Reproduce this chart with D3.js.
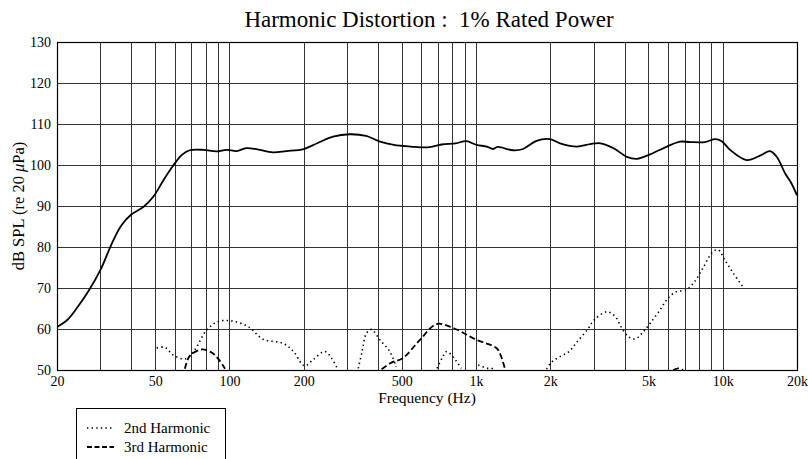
<!DOCTYPE html>
<html>
<head>
<meta charset="utf-8">
<script src="https://cdn.jsdelivr.net/npm/d3@7"></script>
<style>
  body { margin: 0; background: #fff; }
  svg { display: block; font-family: "Liberation Serif", "Times New Roman", serif; }
  .grid line { stroke: #333; stroke-width: 1; }
</style>
</head>
<body>
<svg width="808" height="459"></svg>
<script>
"use strict";

// fundamental response [Hz, dB]
var fundamental = [
  [20, 60.5], [22, 62.2], [24, 65.0], [27, 69.5], [30, 74.4], [33.4, 80.9], [36.4, 85.2],
  [39.8, 87.8], [44.9, 89.8], [49.2, 92.3], [54, 96.3], [59.4, 100.0], [64, 102.4],
  [69, 103.6], [78.5, 103.7], [88.6, 103.3], [97.5, 103.7], [107, 103.4], [117, 104.1],
  [130, 103.8], [150, 103.1], [170, 103.4], [200, 103.9], [227, 105.3], [263, 106.9],
  [307, 107.5], [358, 107.1], [408, 105.7], [464, 104.9], [543, 104.5], [637, 104.3],
  [725, 105.0], [827, 105.3], [913, 105.8], [1005, 104.9], [1105, 104.5], [1172, 103.9],
  [1223, 104.4], [1411, 103.6], [1549, 103.9], [1758, 105.9], [1993, 106.3], [2190, 105.3],
  [2560, 104.5], [2903, 105.1], [3190, 105.3], [3607, 104.1], [4085, 102.0], [4485, 101.5],
  [5078, 102.6], [5939, 104.5], [6720, 105.7], [7370, 105.6], [8480, 105.6], [9320, 106.3],
  [9910, 105.8], [10710, 103.7], [12520, 101.2], [14170, 102.3], [15550, 103.4],
  [16550, 102.0], [17890, 98.0], [19000, 95.5], [20000, 92.6]
];

// 2nd harmonic, null = below chart floor
var harmonic2 = [
  [50.7, 55.4], [54.8, 55.5], [59, 53.7], [66, 52.7], [71.6, 54.5], [81, 59.8], [90, 61.8],
  [101, 62.0], [119, 60.6], [137, 57.5], [165, 56.5], [182, 54.5], [196, 51.6], [203, 51.0],
  [219, 52.6], [244, 54.5], [260, 52.8], [274, 50.3], [280, null],
  [333, 50.4], [345, 54.5], [359, 58.9], [376, 59.9], [408, 57.3], [447, 54.5], [474, 50.8], [480, null],
  [695, 50.4], [730, 53.0], [760, 54.5], [826, 52.4], [871, 50.4], [880, null],
  [1020, 51.2], [1120, 50.4], [1186, 50.4], [1200, null],
  [1930, 50.2], [2030, 52.0], [2180, 53.2], [2380, 54.5], [2570, 56.9], [2825, 59.8],
  [3010, 62.2], [3390, 64.2], [3670, 63.0], [3900, 60.2], [4150, 58.1], [4420, 57.6],
  [4760, 59.3], [5080, 61.4], [5560, 64.6], [6000, 67.5], [6480, 69.1], [7110, 69.5],
  [7680, 71.5], [8300, 74.8], [9140, 78.9], [9580, 79.3], [10200, 76.8], [11040, 73.6],
  [12100, 70.2]
];

// 3rd harmonic
var harmonic3 = [
  [66, 50.3], [69, 53.4], [77, 55.0], [85, 54.2], [91, 52.4], [96, 50.3], [98, null],
  [414, 50.2], [454, 51.8], [505, 52.9], [591, 57.3], [690, 61.2], [782, 60.6],
  [886, 59.1], [990, 57.5], [1100, 56.5], [1212, 55.3], [1260, 53.5], [1310, 50.2], [1320, null],
  [6300, 50.0], [6600, 50.4], [6900, 50.0]
];

var xTicks = [20, 50, 100, 200, 500, 1000, 2000, 5000, 10000, 20000],
    xTickLabels = ["20", "50", "100", "200", "500", "1k", "2k", "5k", "10k", "20k"],
    xGrid = [30, 40, 50, 60, 70, 80, 90, 100, 200, 300, 400, 500, 600, 700, 800, 900,
             1000, 2000, 3000, 4000, 5000, 6000, 7000, 8000, 9000, 10000],
    yTicks = [50, 60, 70, 80, 90, 100, 110, 120, 130];

var svg = d3.select("svg");
var pLeft = 57, pRight = 797, pTop = 42, pBottom = 370;

var x = d3.scaleLog().domain([20, 20000]).range([pLeft, pRight]);
var y = d3.scaleLinear().domain([50, 130]).range([pBottom, pTop]);

svg.append("defs").append("clipPath").attr("id", "plot")
  .append("rect").attr("x", pLeft).attr("y", pTop)
  .attr("width", pRight - pLeft).attr("height", pBottom - pTop);

var grid = svg.append("g").attr("class", "grid");
grid.selectAll("line.v").data(xGrid).enter().append("line")
  .attr("x1", function(d) { return Math.round(x(d)) + 0.5; })
  .attr("x2", function(d) { return Math.round(x(d)) + 0.5; })
  .attr("y1", pTop).attr("y2", pBottom);
grid.selectAll("line.h").data(yTicks).enter().append("line")
  .attr("y1", function(d) { return Math.round(y(d)) + 0.5; })
  .attr("y2", function(d) { return Math.round(y(d)) + 0.5; })
  .attr("x1", pLeft).attr("x2", pRight);

svg.append("rect")
  .attr("x", pLeft + 0.5).attr("y", pTop + 0.5)
  .attr("width", pRight - pLeft).attr("height", pBottom - pTop)
  .attr("fill", "none").attr("stroke", "#000").attr("stroke-width", 1.2);

// axes (labels only)
var xAxis = d3.axisBottom(x).tickValues(xTicks).tickSize(0).tickPadding(6)
  .tickFormat(function(d, i) { return xTickLabels[i]; });
var gx = svg.append("g").attr("transform", "translate(0," + pBottom + ")").call(xAxis);
gx.attr("font-family", null);
gx.select(".domain").remove();
gx.selectAll("text").attr("font-size", 14).attr("fill", "#000");

var yAxis = d3.axisLeft(y).tickValues(yTicks).tickSize(0).tickPadding(6);
var gy = svg.append("g").attr("transform", "translate(" + pLeft + ",0)").call(yAxis);
gy.attr("font-family", null);
gy.select(".domain").remove();
gy.selectAll("text").attr("font-size", 14).attr("fill", "#000");

var line = d3.line()
  .defined(function(d) { return d[1] !== null; })
  .x(function(d) { return x(d[0]); })
  .y(function(d) { return y(d[1]); })
  .curve(d3.curveCatmullRom.alpha(0.5));

var plot = svg.append("g").attr("clip-path", "url(#plot)");

plot.append("path").datum(harmonic2)
  .attr("d", line).attr("fill", "none").attr("stroke", "#000")
  .attr("stroke-width", 1.6).attr("stroke-dasharray", "1.4,3.2");

plot.append("path").datum(harmonic3)
  .attr("d", line).attr("fill", "none").attr("stroke", "#000")
  .attr("stroke-width", 1.8).attr("stroke-dasharray", "6,3");

plot.append("path").datum(fundamental)
  .attr("d", line).attr("fill", "none").attr("stroke", "#000")
  .attr("stroke-width", 1.8);

// titles
svg.append("text").attr("x", 429).attr("y", 27)
  .attr("text-anchor", "middle").attr("font-size", 23)
  .style("white-space", "pre")
  .text("Harmonic Distortion :  1% Rated Power");

svg.append("text").attr("x", 427).attr("y", 403)
  .attr("text-anchor", "middle").attr("font-size", 15.5)
  .text("Frequency (Hz)");

var yl = svg.append("text")
  .attr("transform", "translate(24," + (pTop + pBottom) / 2 + ") rotate(-90)")
  .attr("text-anchor", "middle").attr("font-size", 16.5);
yl.append("tspan").text("dB SPL (re 20 ");
yl.append("tspan").attr("font-style", "italic").text("μ");
yl.append("tspan").text("Pa)");

// legend
var lg = svg.append("g").attr("transform", "translate(76,408)");
lg.append("rect").attr("x", 0.5).attr("y", 0.5).attr("width", 149).attr("height", 70)
  .attr("fill", "#fff").attr("stroke", "#000").attr("stroke-width", 1);
var legendItems = [["2nd Harmonic", "1.4,3.2", 1.6], ["3rd Harmonic", "5,2.5", 1.8]];
legendItems.forEach(function(it, i) {
  var yy = 20 + i * 19;
  lg.append("line").attr("x1", 11).attr("x2", 38).attr("y1", yy).attr("y2", yy)
    .attr("stroke", "#000").attr("stroke-width", it[2]).attr("stroke-dasharray", it[1]);
  lg.append("text").attr("x", 48).attr("y", yy + 5).attr("font-size", 15).text(it[0]);
});
</script>
</body>
</html>
